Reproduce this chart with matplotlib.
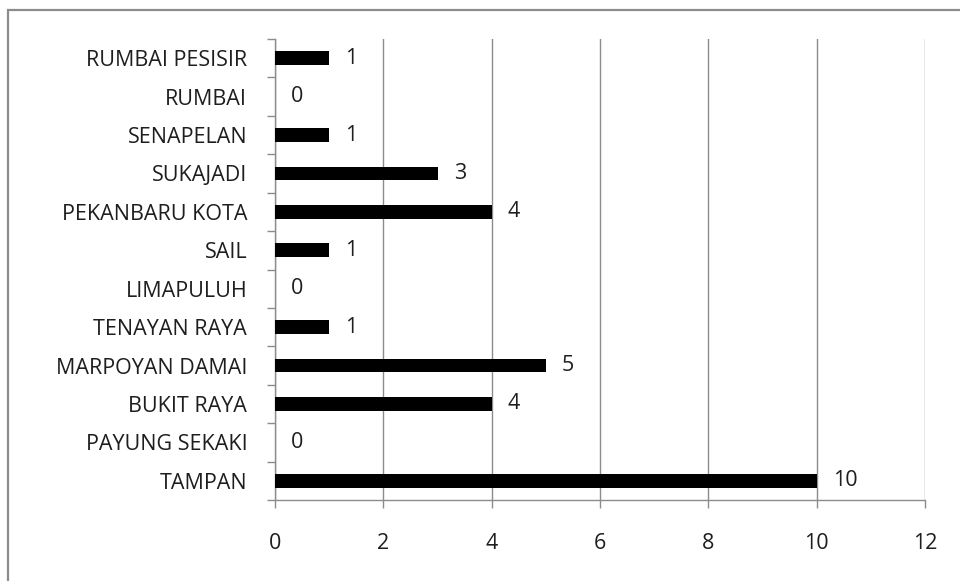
import matplotlib
matplotlib.use("Agg")
import matplotlib.pyplot as plt
from matplotlib.patches import Rectangle

districts = ["TAMPAN", "PAYUNG SEKAKI", "BUKIT RAYA", "MARPOYAN DAMAI",
             "TENAYAN RAYA", "LIMAPULUH", "SAIL", "PEKANBARU KOTA",
             "SUKAJADI", "SENAPELAN", "RUMBAI", "RUMBAI PESISIR"]
counts = [10, 0, 4, 5, 1, 0, 1, 4, 3, 1, 0, 1]
x_ticks = [0, 2, 4, 6, 8, 10, 12]

plt.rcParams["font.family"] = ["Open Sans", "DejaVu Sans"]
TXT = "#1e1e1e"
FS = 15.5

fig = plt.figure(figsize=(9.6, 5.81), dpi=100)
W, H = 960, 581

# outer chart border; only its top and left edges fall inside the canvas
fig.patches.append(Rectangle((8 / W, -0.2), 1.2, 1.2 - 10 / H, transform=fig.transFigure,
                             fill=False, edgecolor="#8c8c8c", linewidth=1.6))

left, right, top, bottom = 275, 925, 39, 500
ax = fig.add_axes([left / W, 1 - bottom / H, (right - left) / W, (bottom - top) / H])

y = list(range(len(districts)))
ax.barh(y, counts, height=0.36, color="black", zorder=3)
ax.set_xlim(0, 12)
ax.set_ylim(-0.5, len(districts) - 0.5)

for yi, v in zip(y, counts):
    ax.text(v + 0.3, yi, str(v), va="center", ha="left", fontsize=FS, color=TXT)

ax.set_xticks(x_ticks)
ax.set_xticklabels([str(t) for t in x_ticks], fontsize=FS, color=TXT)
ax.set_yticks(y)
ax.set_yticklabels(districts, fontsize=FS, color=TXT)

ax.grid(axis="x", color="#8c8c8c", linewidth=1.0, zorder=0)
ax.tick_params(axis="y", length=0, pad=20)
ax.tick_params(axis="x", length=6, width=1.0, color="#8c8c8c", pad=18)

# category separators on the left axis
ax.set_yticks([i - 0.5 for i in range(len(districts) + 1)], minor=True)
ax.tick_params(axis="y", which="minor", length=6, width=1.0, color="#8c8c8c")

for s in ["top", "right"]:
    ax.spines[s].set_visible(False)
for s in ["left", "bottom"]:
    ax.spines[s].set_color("#8c8c8c")
    ax.spines[s].set_linewidth(1.0)

fig.savefig("out.png", dpi=100)
